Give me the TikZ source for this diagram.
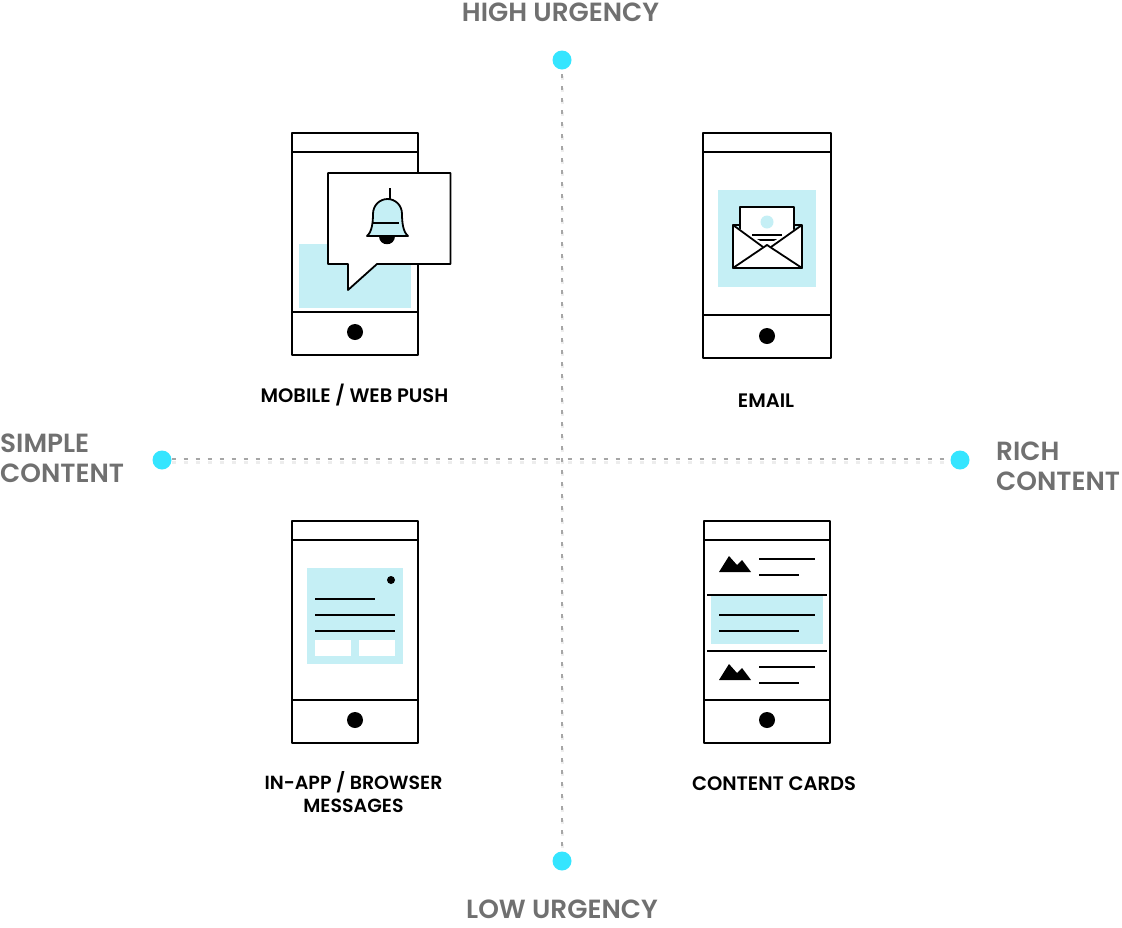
\documentclass[tikz,border=0pt]{standalone}
\usepackage{fontspec}
\setmainfont{Poppins}[BoldFont={Poppins SemiBold}]
\usetikzlibrary{arrows.meta}
\definecolor{dotcyan}{HTML}{35E5FF}
\definecolor{paleblue}{HTML}{C5EFF5}
\definecolor{axisgray}{HTML}{707070}

\begin{document}
\begin{tikzpicture}[
        x=1pt,y=-1pt,
        every path/.style={line join=round},
        ink/.style={line width=1.8pt},
        axisdot/.style={circle,fill=dotcyan,inner sep=0pt,minimum size=19pt},
        axisdash/.style={line width=1.8pt,black!35,dash pattern=on 4pt off 8pt},
        axisblur/.style={line width=3pt,black!7,dash pattern=on 4pt off 8pt},
        axisword/.style={text=axisgray,font=\fontsize{26.3}{30}\selectfont\bfseries,align=left,inner sep=0pt},
        phoneword/.style={font=\fontsize{19.5}{23}\selectfont\bfseries,align=center,inner sep=0pt},
        myphone/.cd,
        wide/.initial=126,
        tall/.initial=222,
        foot/.initial=43,
        tip/.initial=23,
        /tikz/pics/myphone/.style={
            code={
                \draw[ink,fill=white] (0,0) rectangle (\pgfkeysvalueof{/tikz/myphone/wide},\pgfkeysvalueof{/tikz/myphone/tall});
                \draw[ink] (0,19) -- (\pgfkeysvalueof{/tikz/myphone/wide},19);
                \draw[ink] (0,\pgfkeysvalueof{/tikz/myphone/tall}-\pgfkeysvalueof{/tikz/myphone/foot}) -- +(\pgfkeysvalueof{/tikz/myphone/wide},0);
                \fill (0.5*\pgfkeysvalueof{/tikz/myphone/wide},\pgfkeysvalueof{/tikz/myphone/tall}-\pgfkeysvalueof{/tikz/myphone/tip}) circle (8);
            }
        },
        /tikz/pics/peaks/.style={
            code={
                \fill (0,0) -- (10,-16) -- (18,-7) -- (23,-12) -- (32,0) -- cycle;
            }
        }
    ]

\useasboundingbox (0,0) rectangle (1122,927);

% axes
\node[axisdot] (high) at (562,60) {};
\node[axisdot] (low) at (562,861) {};
\node[axisdot] (simple) at (162,460) {};
\node[axisdot] (rich) at (960,460) {};

\draw[axisblur] ([yshift=-2.5pt]simple.east) -- ([yshift=-2.5pt]rich.west);
\draw[axisblur,dash phase=7.5pt] ([yshift=-2pt]high.south) -- ([yshift=-2pt]low.north);
\draw[axisdash] ([yshift=1pt]simple.east) -- ([yshift=1pt]rich.west);
\draw[axisdash,dash phase=7.5pt] (high) -- (low);

\node[axisword] (highword) at (560.5,12) {HIGH URGENCY};
\node[axisword] (lowword) at (562,909) {LOW URGENCY};
\node[axisword,anchor=west] (simpleword) at (0,458) {SIMPLE\\CONTENT};
\node[axisword,anchor=west] (richword) at (996,466) {RICH\\CONTENT};

% push
\pic at (292,133) {myphone};
\fill[paleblue] (299,244) rectangle (411,308);
\draw[ink,fill=white] (328,173) -- (450.5,173) -- (450.5,264) -- (377,264) -- (348,290) -- (348,264) -- (328,264) -- cycle;
\draw[ink] (390,188) -- (390,199);
\fill (379,236) .. controls (379,246.7) and (395,246.7) .. (395,236) -- cycle;
\draw[ink,fill=paleblue] (367,236) .. controls (372,232) and (373,222) .. (373,214) .. controls (373,205) and (380,199) .. (387.5,199) .. controls (395,199) and (402,205) .. (402,214) .. controls (402,222) and (403,232) .. (408,236) -- cycle;
\draw[ink] (372,223) -- (399,223);
\node[phoneword] (pushword) at (354.5,395) {MOBILE / WEB PUSH};

% email
\pic[myphone/.cd,wide=128,tall=225,tip=22] at (703,133) {myphone};
\fill[paleblue] (718,190) rectangle (816,287);
\draw[ink,fill=paleblue] (733,225) rectangle (802,268);
\draw[ink,fill=white] (740,245) -- (740,207) -- (794,207) -- (794,245) -- cycle;
\fill[paleblue] (767,222) circle (6.5);
\draw[ink] (752,235) -- (782,235);
\draw[ink] (757,240) -- (777,240);
\fill[white] (733,225) -- (767,245) -- (802,225) -- (802,268) -- (733,268) -- cycle;
\draw[ink] (733,225) -- (763,247) (802,225) -- (771,247);
\draw[ink] (733,225) -- (733,268) -- (802,268) -- (802,225);
\draw[ink] (733,268) -- (767,245) -- (802,268);
\node[phoneword] (emailword) at (766,401) {EMAIL};

% in-app
\pic at (292,521) {myphone};
\fill[paleblue] (307,568) rectangle (403,664);
\fill (391,580) circle (4);
\draw[ink] (315,599) -- (375,599);
\draw[ink] (315,615) -- (395,615);
\draw[ink] (315,631) -- (395,631);
\fill[white] (315,640) rectangle (351,656);
\fill[white] (359,640) rectangle (395,656);
\node[phoneword,font=\fontsize{19}{23}\selectfont\bfseries] (inappword) at (353.5,792.5) {IN-APP / BROWSER\\MESSAGES};

% cards
\pic at (704,521) {myphone};
\fill[paleblue] (711,596) rectangle (823,644);
\draw[ink] (707,595) -- (827,595);
\draw[ink] (707,651) -- (827,651);
\pic at (719,572) {peaks};
\pic at (719,680) {peaks};
\draw[ink] (759,559) -- (815,559);
\draw[ink] (759,575) -- (799,575);
\draw[ink] (719,615) -- (815,615);
\draw[ink] (719,631) -- (799,631);
\draw[ink] (759,667) -- (815,667);
\draw[ink] (759,683) -- (799,683);
\node[phoneword] (cardsword) at (774,784) {CONTENT CARDS};

\end{tikzpicture}
\end{document}
